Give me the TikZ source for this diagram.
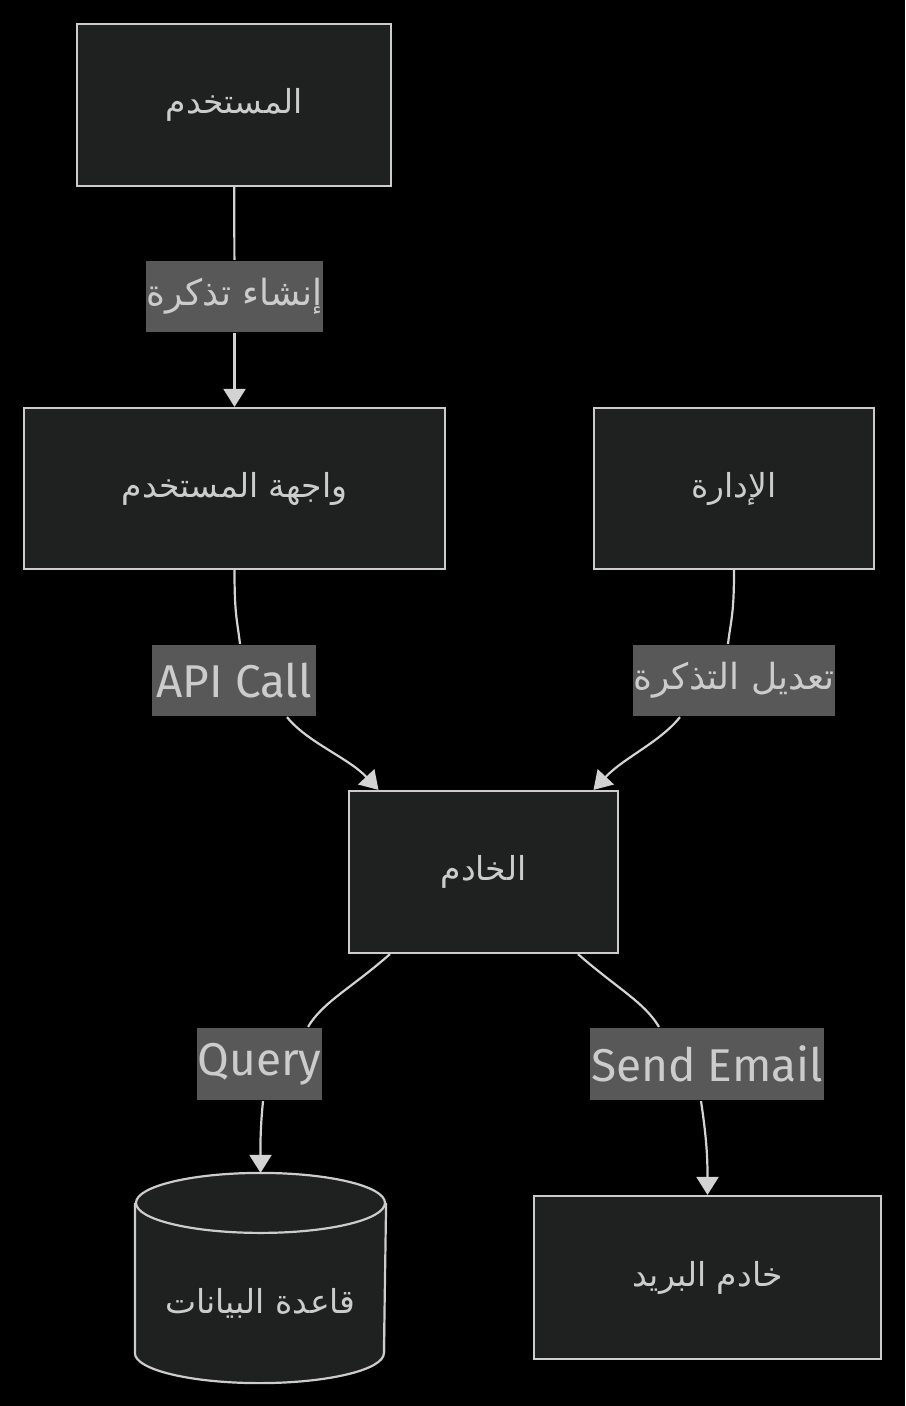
\documentclass[tikz,border=0pt]{standalone}
\usepackage{fontspec}
\setmainfont{Fira Sans}
\newfontfamily\arabicfont[Script=Arabic]{DejaVu Sans}
\TeXXeTstate=1
\usetikzlibrary{arrows.meta,calc}
\definecolor{canvasblack}{HTML}{000000}
\definecolor{boxfill}{HTML}{1F2020}
\definecolor{boxline}{HTML}{CCCCCC}
\definecolor{labelgray}{HTML}{585858}
\definecolor{inkgray}{HTML}{CCCCCC}
\definecolor{wirelight}{HTML}{D3D3D3}
\newcommand{\artext}[1]{{\arabicfont\beginR #1\endR}}

\begin{document}
\begin{tikzpicture}[x=0.5pt, y=-0.5pt, line width=1.1pt, >={Triangle[length=9pt,width=11pt]},
  box/.style={draw=boxline, fill=boxfill, text=inkgray, inner sep=0pt,
    font=\fontsize{16.5}{20}\selectfont},
  tag/.style={fill=labelgray, text=inkgray, inner sep=0pt, minimum height=35.5pt,
    font=\fontsize{23}{27}\selectfont},
  artag/.style={tag, font=\fontsize{18}{22}\selectfont},
  wire/.style={draw=wirelight}]
  \fill[canvasblack] (0,0) rectangle (905,1406);

  % boxes
  \node[box, minimum width=157pt, minimum height=81pt] (user) at (234,105) {\artext{المستخدم}};
  \node[box, minimum width=210.5pt, minimum height=80.5pt] (fe) at (234.5,488.5) {\artext{واجهة المستخدم}};
  \node[box, minimum width=140pt, minimum height=80.5pt] (adm) at (734,488.5) {\artext{الإدارة}};
  \node[box, minimum width=134.5pt, minimum height=81pt] (srv) at (483.5,872) {\artext{الخادم}};
  \node[box, minimum width=173.5pt, minimum height=81.5pt] (mail) at (707.5,1277.5) {\artext{خادم البريد}};

  % database cylinder
  \node[minimum width=124.5pt, minimum height=104pt, inner sep=0pt] (db) at (260.5,1278) {};
  \fill[boxfill] ($(db.north west)+(0,30)$) rectangle ($(db.south east)+(0,-30)$);
  \fill[boxfill] ($(db.south)+(0,-30)$) ellipse [x radius=124.5, y radius=30];
  \draw[boxline, fill=boxfill] ($(db.north)+(0,30)$) ellipse [x radius=124.5, y radius=30];
  \draw[boxline] ($(db.north west)+(0,30)$) -- ($(db.south west)+(0,-30)$)
    arc[start angle=180, end angle=0, x radius=124.5, y radius=30] -- ($(db.north east)+(0,30)$);
  \node[text=inkgray, font=\fontsize{16.5}{20}\selectfont, inner sep=0pt] (dbname) at ($(db.center)+(0,25)$) {\artext{قاعدة البيانات}};

  % edge labels
  \node[artag, minimum width=87.5pt] (lnew) at (234.5,296.5) {\artext{إنشاء تذكرة}};
  \node[tag, minimum width=82pt] (lapi) at (234,680.5) {API Call};
  \node[artag, minimum width=100pt] (ledit) at (734,680.5) {\artext{تعديل التذكرة}};
  \node[tag, minimum width=62.5pt, minimum height=36pt] (lquery) at (259.5,1064) {Query};
  \node[tag, minimum width=117pt, minimum height=36pt] (lmail) at (707,1064) {Send Email};

  % connectors
  \draw[wire] (user) -- (lnew);
  \draw[wire, ->] (lnew) -- (fe);
  \draw[wire] (fe.south) .. controls +(0,45) and +(-3,-25) .. ($(lapi.north)+(6,0)$);
  \draw[wire, ->] ($(lapi.south)+(53,0)$) .. controls +(20,25) and +(-30,-32) .. ($(srv.north)+(-105,0)$);
  \draw[wire] (adm.south) .. controls +(0,45) and +(3,-25) .. ($(ledit.north)+(-6,0)$);
  \draw[wire, ->] ($(ledit.south)+(-54,0)$) .. controls +(-20,25) and +(30,-32) .. ($(srv.north)+(110,0)$);
  \draw[wire] ($(srv.south)+(-93.5,0)$) .. controls +(-40,35) and +(15,-25) .. ($(lquery.north)+(48.5,0)$);
  \draw[wire, ->] ($(lquery.south)+(3.5,0)$) .. controls +(-3,30) and +(0,-25) .. (db.north);
  \draw[wire] ($(srv.south)+(94.5,0)$) .. controls +(40,35) and +(-15,-25) .. ($(lmail.north)+(-48,0)$);
  \draw[wire, ->] ($(lmail.south)+(-6,0)$) .. controls +(6,40) and +(0,-35) .. (mail.north);
\end{tikzpicture}
\end{document}
